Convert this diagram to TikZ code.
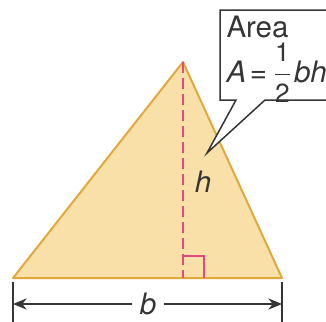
\documentclass[tikz,border=0pt]{standalone}
\usepackage{fontspec}
\setmainfont{TeX Gyre Heros}
\usetikzlibrary{arrows.meta,positioning,calc}
\definecolor{trifill}{HTML}{F9E0A8}
\definecolor{triedge}{HTML}{E2A93A}
\definecolor{htpink}{HTML}{E5487C}
\definecolor{inkgray}{HTML}{353535}
\tikzset{
  dimline/.style={draw=inkgray,line width=0.6pt},
  dimarrow/.style={dimline,-{Stealth[length=5.5pt,width=4.5pt]}},
  callout/.style={draw=inkgray,line width=0.6pt,fill=white,line join=miter},
  lbl/.style={text=inkgray,inner sep=3pt}
}
\newcommand{\halfnum}[1]{\mbox{\fontsize{10.5}{12}\selectfont #1}}
\begin{document}
\begin{tikzpicture}[x=0.4pt,y=-0.4pt,font=\fontsize{11.8}{14}\selectfont]
\useasboundingbox (0,0) rectangle (326,321);
\coordinate (L) at (13,278);
\coordinate (R) at (282,278);
\coordinate (T) at (183,62);
\coordinate (F) at (183,278);
\filldraw[fill=trifill,draw=triedge,line width=0.8pt,line join=round] (L)--(T)--(R)--cycle;
\draw[htpink,line width=1.05pt,dash pattern=on 4.4pt off 2pt] (T)--(F);
\draw[htpink,line width=0.8pt] ($(F)+(0,-22)$) -| ($(F)+(21,0)$);
\node[lbl] (h) at (203,182) {\textit{h}};
% base dimension
\draw[dimline] ($(L)+(0,4)$) -- +(0,45);
\draw[dimline] ($(R)+(0,4)$) -- +(0,45);
\node[lbl] (b) at (148,304) {\textit{b}};
\draw[dimarrow] (b) -- (L|-b);
\draw[dimarrow] (b) -- (R|-b);
% callout
\coordinate (tip) at (207,153);
\draw[callout] (220,10) -- (345,10) -- (345,100) -- (265,100) -- (tip) -- (236,100) -- (220,100) -- cycle;
\node[lbl,anchor=base west,inner sep=0pt] (area) at (226,37) {Area};
\node[lbl,anchor=base west,inner sep=0pt] (formula) at (226,82)
  {\textit{A}\hspace{1.5pt}=\hspace{2pt}$\displaystyle\frac{\halfnum{1}}{\halfnum{2}}$\hspace{0.5pt}\textit{bh}};
\end{tikzpicture}
\end{document}
